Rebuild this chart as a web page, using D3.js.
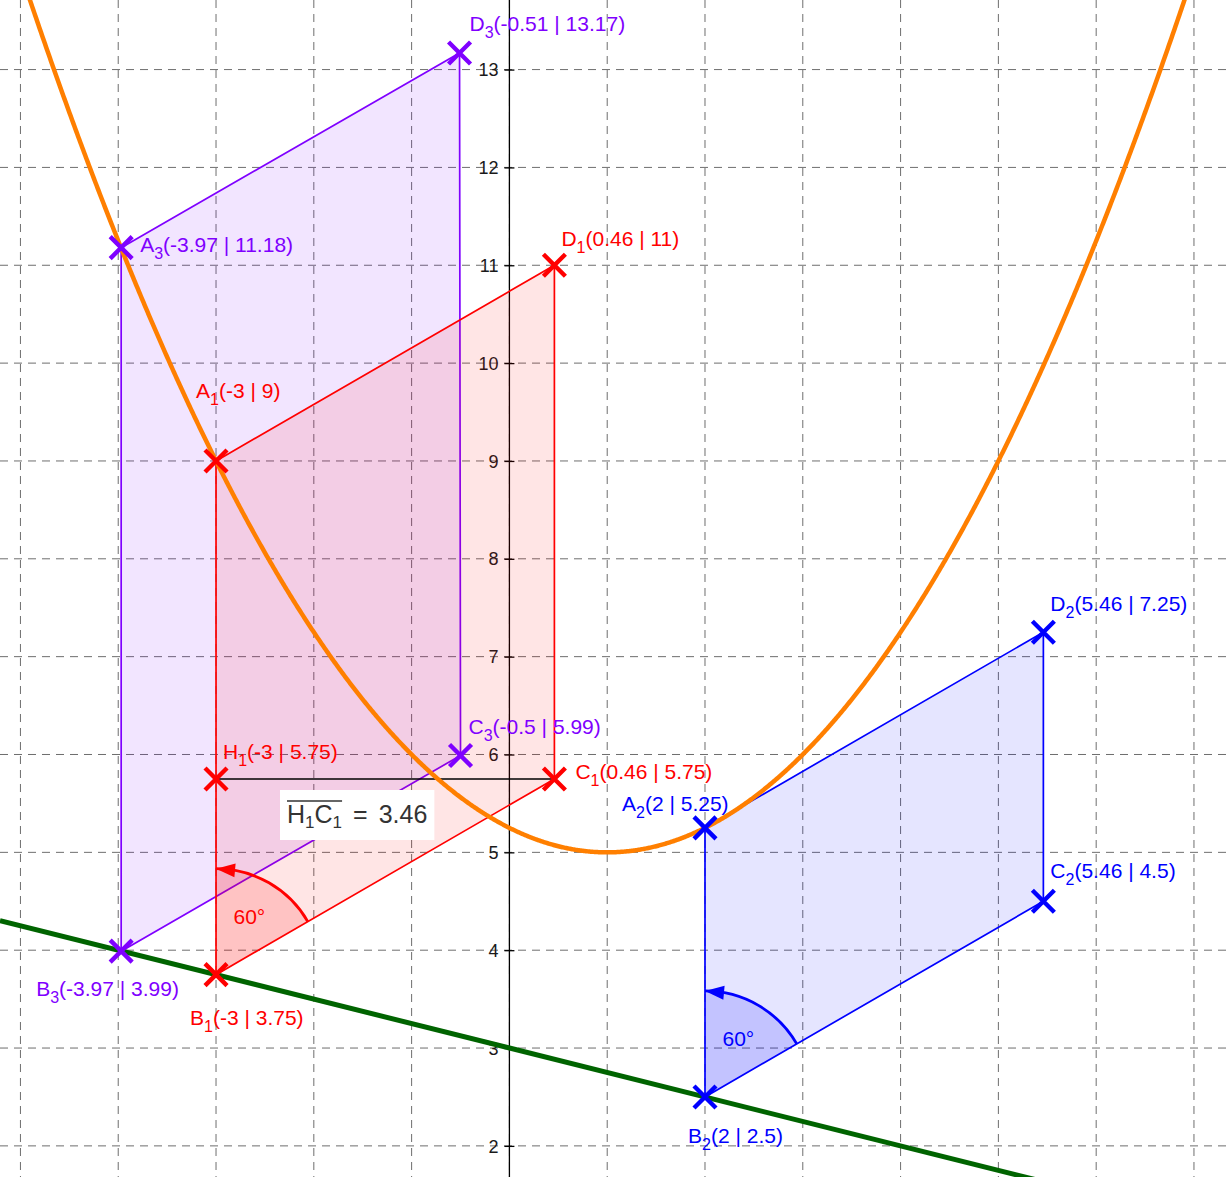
<!DOCTYPE html>
<html>
<head>
<meta charset="utf-8">
<script src="https://cdn.jsdelivr.net/npm/d3@7"></script>
<style>
  body { margin: 0; background: #fff; }
  svg { display: block; }
  text { font-family: "Liberation Sans", Arial, sans-serif; }
</style>
</head>
<body>
<svg class="view"></svg>
<script>
const width = 1228, height = 1177

// visible window of the graphics view (world units)
const xDomain = [-5.209, 7.348]
const yDomain = [1.682, 13.711]
const xGrid = d3.range(-5, 8)
const yGrid = d3.range(2, 14)
const yTickLabels = ['2', '3', '4', '5', '6', '7', '8', '9', '10', '11', '12', '13']

// f(x) = a (x - h)^2 + k   and   g(x) = m x + b
const parabola = { a: 0.25, h: 1, k: 5 }
const tangentLine = { m: -0.25, b: 3 }

// points: [name, subscript, x, y]
const redPoints = [['A', '1', -3, 9], ['B', '1', -3, 3.75], ['C', '1', 0.46, 5.75], ['D', '1', 0.46, 11], ['H', '1', -3, 5.75]]
const bluePoints = [['A', '2', 2, 5.25], ['B', '2', 2, 2.5], ['C', '2', 5.46, 4.5], ['D', '2', 5.46, 7.25]]
const purplePoints = [['A', '3', -3.97, 11.18], ['B', '3', -3.97, 3.99], ['C', '3', -0.5, 5.99], ['D', '3', -0.51, 13.17]]

const angleValues = ['60°', '60°']
const segmentValue = 3.46

const colors = { red: '#ff0000', blue: '#0000ff', purple: '#7f00ff', orange: '#ff7f00', green: '#006400' }

// label offsets in screen px (text start / baseline relative to the point)
const labelOffsets = {
  A1: [-20, -63], B1: [-26, 50], C1: [21, 0], D1: [7, -19], H1: [7, -20],
  A2: [-83, -17], B2: [-17, 46], C2: [7, -23], D2: [7, -21],
  A3: [19, 4], B3: [-85, 45], C3: [8, -21], D3: [10, -22]
}

const svg = d3.select('.view').attr('width', width).attr('height', height)
const x = d3.scaleLinear().domain(xDomain).range([0, width])
const y = d3.scaleLinear().domain(yDomain).range([height, 0])

drawGrid()
drawAxis()

const pts = {}
;[[redPoints, 'red'], [bluePoints, 'blue'], [purplePoints, 'purple']].forEach(([list, c]) => {
  list.forEach(([n, s, px, py]) => { pts[n + s] = { name: n, sub: s, x: px, y: py, color: colors[c] } })
})

drawPolygon(['A3', 'B3', 'C3', 'D3'], colors.purple)
drawPolygon(['A1', 'B1', 'C1', 'D1'], colors.red)
drawPolygon(['A2', 'B2', 'C2', 'D2'], colors.blue)

drawAngle('A1', 'B1', 'C1', colors.red, angleValues[0])
drawAngle('A2', 'B2', 'C2', colors.blue, angleValues[1])

// segment H1C1
svg.append('line')
  .attr('x1', x(pts.H1.x)).attr('y1', y(pts.H1.y))
  .attr('x2', x(pts.C1.x)).attr('y2', y(pts.C1.y))
  .attr('stroke', '#000').attr('stroke-width', 1.6)

drawCurves()
drawPoints()
drawLengthBox()

function drawGrid() {
  const g = svg.append('g').attr('class', 'grid')
    .attr('stroke', '#6e6e6e').attr('stroke-width', 1).attr('stroke-dasharray', '8,6')
  g.selectAll('.vx').data(xGrid).enter().append('line')
    .attr('x1', d => x(d)).attr('x2', d => x(d))
    .attr('y1', 0).attr('y2', height)
  g.selectAll('.hy').data(yGrid).enter().append('line')
    .attr('y1', d => y(d)).attr('y2', d => y(d))
    .attr('x1', 0).attr('x2', width)
}

function drawAxis() {
  const axis = d3.axisLeft(y)
    .tickValues(yGrid)
    .tickFormat((d, i) => yTickLabels[i])
    .tickSizeInner(5).tickSizeOuter(0).tickPadding(6)
  const g = svg.append('g')
    .attr('transform', `translate(${x(0)},0)`)
    .call(axis)
  g.select('.domain').remove()
  g.append('line').attr('y1', 0).attr('y2', height).attr('stroke', '#000').attr('stroke-width', 1.3)
  g.selectAll('.tick line').attr('x1', -5).attr('x2', 5).attr('stroke', '#000').attr('stroke-width', 1.3)
  g.selectAll('.tick text')
    .attr('font-family', '"Liberation Sans", Arial, sans-serif')
    .attr('font-size', 18).attr('fill', '#1a1a1a').attr('dy', '0.34em')
}

function drawPolygon(keys, color) {
  const coords = keys.map(k => [x(pts[k].x), y(pts[k].y)])
  svg.append('path')
    .attr('d', 'M' + coords.join('L') + 'Z')
    .attr('fill', color).attr('fill-opacity', 0.1)
    .attr('stroke', color).attr('stroke-width', 1.7)
}

function drawAngle(ka, kb, kc, color, label) {
  const r = 106
  const B = [x(pts[kb].x), y(pts[kb].y)]
  const aA = Math.atan2(y(pts[ka].y) - B[1], x(pts[ka].x) - B[0])
  const aC = Math.atan2(y(pts[kc].y) - B[1], x(pts[kc].x) - B[0])
  const P = a => [B[0] + r * Math.cos(a), B[1] + r * Math.sin(a)]
  const pC = P(aC), pA = P(aA)
  svg.append('path')
    .attr('d', `M${B}L${pC}A${r},${r} 0 0 0 ${pA}Z`)
    .attr('fill', color).attr('fill-opacity', 0.15)
  svg.append('path')
    .attr('d', `M${pC}A${r},${r} 0 0 0 ${pA}`)
    .attr('fill', 'none').attr('stroke', color).attr('stroke-width', 2.8)
  // arrow head at the end of the arc
  const back = P(aA + 0.18)
  const dx = pA[0] - back[0], dy = pA[1] - back[1]
  const len = Math.hypot(dx, dy)
  const nx = -dy / len * 7, ny = dx / len * 7
  svg.append('path')
    .attr('d', `M${pA}L${back[0] + nx},${back[1] + ny}L${back[0] - nx},${back[1] - ny}Z`)
    .attr('fill', color)
  const mid = (aA + aC) / 2
  svg.append('text')
    .attr('x', B[0] + r * 0.63 * Math.cos(mid))
    .attr('y', B[1] + r * 0.63 * Math.sin(mid) + 7)
    .attr('text-anchor', 'middle')
    .attr('font-size', 21).attr('fill', color)
    .text(label)
}

function drawCurves() {
  const lineGen = d3.line().x(d => x(d[0])).y(d => y(d[1]))
  const f = t => parabola.a * (t - parabola.h) ** 2 + parabola.k
  const samples = d3.range(xDomain[0], xDomain[1] + 0.01, 0.01).map(t => [t, f(t)])
  svg.append('path')
    .attr('d', lineGen(samples))
    .attr('fill', 'none').attr('stroke', colors.orange).attr('stroke-width', 4.5)
  const g = t => tangentLine.m * t + tangentLine.b
  svg.append('path')
    .attr('d', lineGen([[xDomain[0], g(xDomain[0])], [xDomain[1], g(xDomain[1])]]))
    .attr('fill', 'none').attr('stroke', colors.green).attr('stroke-width', 5)
}

function drawPoints() {
  const data = Object.entries(pts)
  const s = 11
  const g = svg.append('g').selectAll('g').data(data).enter().append('g')
    .attr('transform', ([, p]) => `translate(${x(p.x)},${y(p.y)})`)
  g.append('path')
    .attr('d', `M${-s},${-s}L${s},${s}M${-s},${s}L${s},${-s}`)
    .attr('stroke', ([, p]) => p.color).attr('stroke-width', 4.4)
  const t = g.append('text')
    .attr('x', ([k]) => labelOffsets[k][0])
    .attr('y', ([k]) => labelOffsets[k][1])
    .attr('font-size', 21)
    .attr('fill', ([, p]) => p.color)
  t.append('tspan').text(([, p]) => p.name)
  t.append('tspan').attr('dy', 7).attr('font-size', 16).text(([, p]) => p.sub)
  t.append('tspan').attr('dy', -7).text(([, p]) => `(${p.x} | ${p.y})`)
}

function drawLengthBox() {
  const g = svg.append('g').attr('transform', 'translate(287,823)')
  const rect = g.append('rect').attr('fill', '#fff')
  const name = g.append('text').attr('font-size', 25).attr('fill', '#333')
    .attr('font-family', '"DejaVu Sans", sans-serif')
  name.append('tspan').text('H')
  name.append('tspan').attr('dy', 5).attr('font-size', 17).text('1')
  name.append('tspan').attr('dy', -5).text('C')
  name.append('tspan').attr('dy', 5).attr('font-size', 17).text('1')
  const nb = name.node().getBBox()
  g.append('line')
    .attr('x1', nb.x).attr('x2', nb.x + nb.width)
    .attr('y1', -22).attr('y2', -22)
    .attr('stroke', '#333').attr('stroke-width', 1.4)
  const eq = g.append('text').attr('font-size', 25).attr('fill', '#333')
    .attr('font-family', '"DejaVu Sans", sans-serif')
    .attr('x', nb.x + nb.width + 11)
    .text('=')
  const eb = eq.node().getBBox()
  const val = g.append('text').attr('font-size', 25).attr('fill', '#333')
    .attr('font-family', '"DejaVu Sans", sans-serif')
    .attr('x', eb.x + eb.width + 11)
    .text(segmentValue)
  const vb = val.node().getBBox()
  rect.attr('x', -7).attr('y', -33).attr('width', vb.x + vb.width + 14).attr('height', 50)
}
</script>
</body>
</html>
